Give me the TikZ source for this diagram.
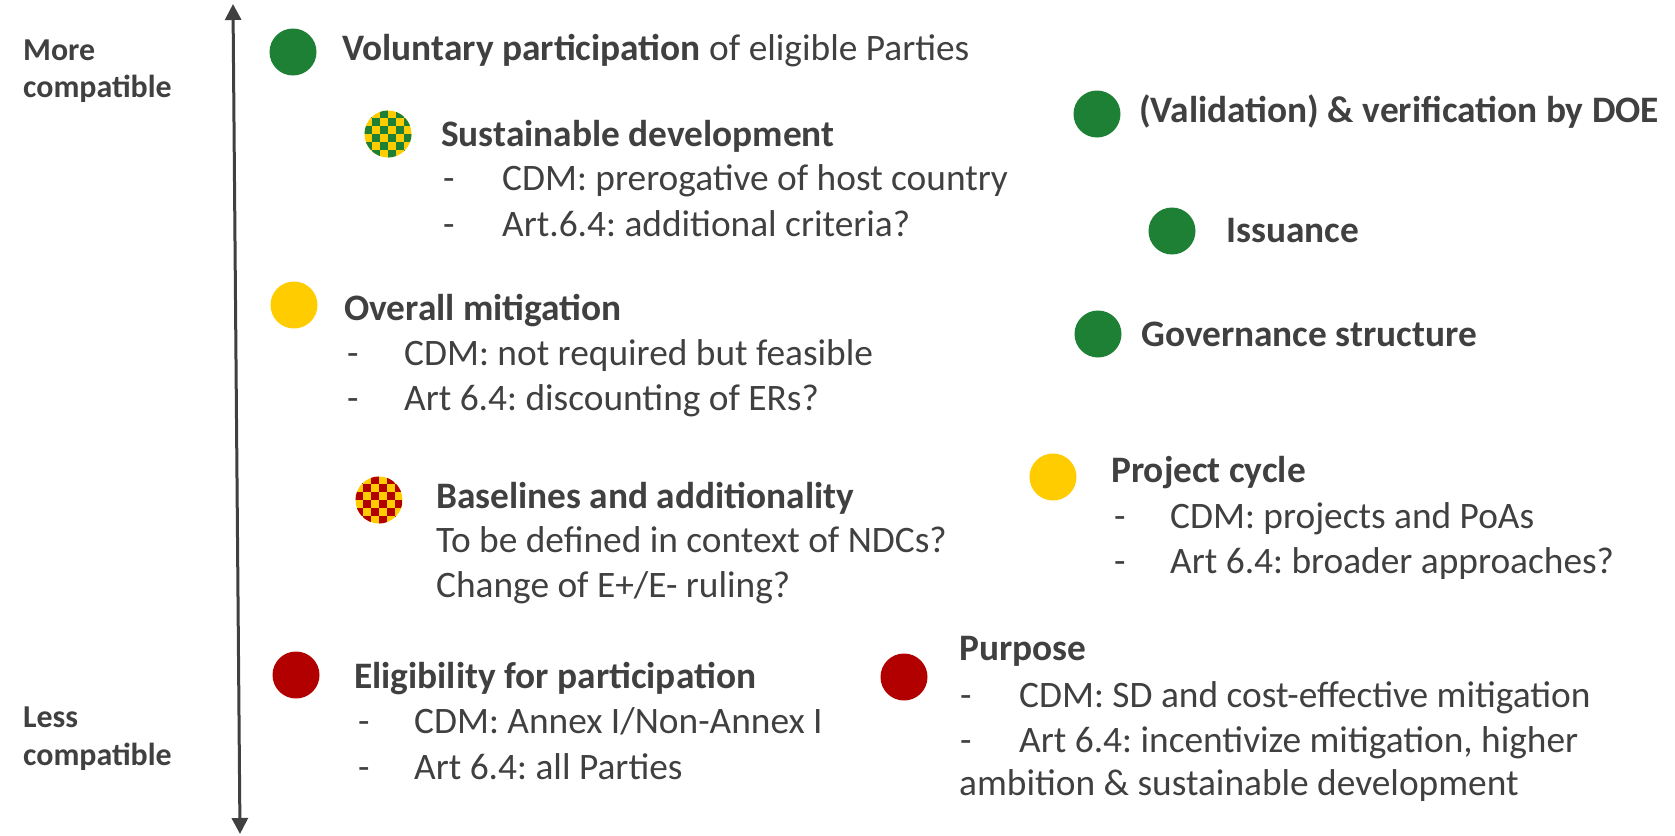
\documentclass[tikz,border=0pt]{standalone}
\usepackage{fontspec}
\setmainfont{Carlito}
\usetikzlibrary{arrows.meta}
\definecolor{cgreen}{RGB}{30,128,52}
\definecolor{cyellow}{RGB}{255,204,0}
\definecolor{cred}{RGB}{178,0,0}
\definecolor{ctext}{RGB}{64,64,64}
\begin{document}
\frenchspacing
\begin{tikzpicture}[x=1bp,y=-1bp,
  dot/.style={circle, inner sep=0pt, minimum size=47bp},
  gdot/.style={dot, fill=cgreen},
  ydot/.style={dot, fill=cyellow},
  rdot/.style={dot, fill=cred},
  checker/.style={dot, fill=cyellow, path picture={
    \foreach \i in {0,...,5}{\foreach \j in {0,...,5}{
      \pgfmathtruncatemacro\k{\i+\j}
      \ifodd\k\relax
        \fill[#1] ([xshift=\i*8bp-24bp, yshift=\j*8bp-24bp]path picture bounding box.center) rectangle ++(8,-8);
      \fi}}}},
  txt/.style={anchor=base west, inner sep=0pt, text=ctext, font=\fontsize{37.5}{45}\selectfont},
  hd/.style={txt, font=\fontsize{37.5}{45}\selectfont\bfseries},
  lab/.style={txt, font=\fontsize{32}{38}\selectfont\bfseries},
  axis/.style={ctext, line width=3bp, {Triangle[length=16bp,width=16bp]}-{Triangle[length=16bp,width=16bp]}}
]
\useasboundingbox (0,0) rectangle (1675,836);
\fill[white] (0,0) rectangle (1675,836);

% axis
\coordinate (atop) at (233,4);
\coordinate (abot) at (240,834);
\draw[axis] (atop) -- (abot);
\node[lab] (more1) at (23,60) {More};
\node[lab] (more2) at (23,97) {compatible};
\node[lab] (less1) at (23,727) {Less};
\node[lab] (less2) at (23,765) {compatible};

% voluntary participation
\node[gdot] (d1) at (293,52) {};
\node[txt] (t1) at (342,60) {\textbf{Voluntary participation} of eligible Parties};

% sustainable development
\node[checker=cgreen] (d2) at (388,134) {};
\node[hd] (t2) at (441,146) {Sustainable development};
\node[txt] (t2a) at (443,190) {\makebox[59bp][l]{-}CDM: prerogative of host country};
\node[txt] (t2b) at (443,236) {\makebox[59bp][l]{-}Art.6.4: additional criteria?};

% overall mitigation
\node[ydot] (d3) at (294,305) {};
\node[hd] (t3) at (344,320) {Overall mitigation};
\node[txt] (t3a) at (347,365) {\makebox[57bp][l]{-}CDM: not required but feasible};
\node[txt] (t3b) at (347,410) {\makebox[57bp][l]{-}Art 6.4: discounting of ERs?};

% baselines
\node[checker=cred] (d4) at (379,500) {};
\node[hd] (t4) at (436,508) {Baselines and additionality};
\node[txt] (t4a) at (436,552) {To be defined in context of NDCs?};
\node[txt] (t4b) at (436,597) {Change of E+/E- ruling?};

% eligibility
\node[rdot] (d5) at (296,675) {};
\node[hd] (t5) at (354,688) {Eligibility for participation};
\node[txt] (t5a) at (358,733) {\makebox[56bp][l]{-}CDM: Annex I/Non-Annex I};
\node[txt] (t5b) at (358,779) {\makebox[56bp][l]{-}Art 6.4: all Parties};

% purpose
\node[rdot] (d6) at (904,677) {};
\node[hd] (t6) at (959,660) {Purpose};
\node[txt] (t6a) at (960,707) {\makebox[59bp][l]{-}CDM: SD and cost-effective mitigation};
\node[txt] (t6b) at (960,752) {\makebox[59bp][l]{-}Art 6.4: incentivize mitigation, higher};
\node[txt] (t6c) at (959,795) {ambition \& sustainable development};

% right column
\node[gdot] (d7) at (1097,114) {};
\node[hd] (t7) at (1139,122) {(Validation) \& verification by DOE};
\node[gdot] (d8) at (1172,231) {};
\node[hd] (t8) at (1226,242) {Issuance};
\node[gdot] (d9) at (1098,334) {};
\node[hd] (t9) at (1141,346) {Governance structure};

\node[ydot] (d10) at (1053,477) {};
\node[hd] (t10) at (1111,482) {Project cycle};
\node[txt] (t10a) at (1114,528) {\makebox[56bp][l]{-}CDM: projects and PoAs};
\node[txt] (t10b) at (1114,573) {\makebox[56bp][l]{-}Art 6.4: broader approaches?};
\end{tikzpicture}
\end{document}
